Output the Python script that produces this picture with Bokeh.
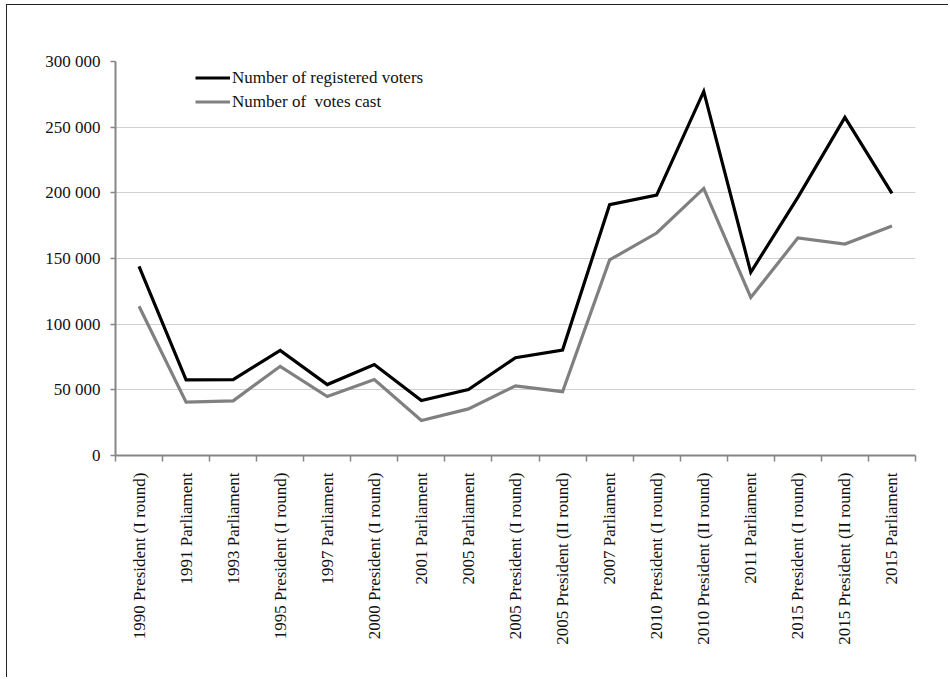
import math
from bokeh.plotting import figure
from bokeh.models import FixedTicker, Range1d, Legend, LegendItem
from bokeh.embed import file_html
from bokeh.resources import INLINE

categories = [
    "1990 President (I round)", "1991 Parliament", "1993 Parliament",
    "1995 President (I round)", "1997 Parliament", "2000 President (I round)",
    "2001 Parliament", "2005 Parliament", "2005 President (I round)",
    "2005 President (II round)", "2007 Parliament", "2010 President (I round)",
    "2010 President (II round)", "2011 Parliament", "2015 President (I round)",
    "2015 President (II round)", "2015 Parliament",
]
registered_voters = [144000, 57600, 57800, 80000, 54000, 69300, 41800, 50200, 74500,
                     80300, 191000, 198300, 277200, 139500, 196500, 257400, 199600]
votes_cast = [113600, 40600, 41600, 67900, 44900, 57800, 26700, 35500, 53000,
              48600, 148900, 169400, 203400, 120300, 165600, 161000, 174700]
y_ticks = [0, 50000, 100000, 150000, 200000, 250000, 300000]
y_tick_labels = ["0", "50 000", "100 000", "150 000", "200 000", "250 000", "300 000"]
series_names = ["Number of registered voters", "Number of  votes cast"]

FONT = "Liberation Serif"
FS = "17px"
x = list(range(1, len(categories) + 1))

p = figure(width=942, height=673, output_backend="svg", toolbar_location=None,
           x_range=Range1d(0.5, len(categories) + 0.5), y_range=Range1d(0, 300000),
           min_border_left=108, min_border_right=34, min_border_top=56, min_border_bottom=223)
p.styles = {"margin-left": "6px", "margin-top": "4px",
            "border-left": "1px solid #222", "border-top": "1px solid #222"}
p.outline_line_color = None
p.background_fill_color = "white"
p.border_fill_color = "white"

r1 = p.line(x, registered_voters, line_color="black", line_width=3.2, line_join="miter")
r2 = p.line(x, votes_cast, line_color="#808080", line_width=3.2, line_join="miter")

# y axis
p.yaxis.ticker = FixedTicker(ticks=y_ticks)
p.yaxis.major_label_overrides = dict(zip(y_ticks, y_tick_labels))
p.yaxis.axis_line_color = "#868686"
p.yaxis.axis_line_width = 2
p.yaxis.major_tick_line_color = "#868686"
p.yaxis.major_tick_line_width = 1.5
p.yaxis.major_tick_out = 5
p.yaxis.major_tick_in = 0
p.yaxis.minor_tick_line_color = None
p.yaxis.major_label_standoff = 10
p.yaxis.major_label_text_font = FONT
p.yaxis.major_label_text_font_size = FS
p.yaxis.major_label_text_color = "#111"

# x axis
bounds = [i + 0.5 for i in range(0, len(categories) + 1)]
p.xaxis.ticker = FixedTicker(ticks=x, minor_ticks=bounds)
p.xaxis.major_label_overrides = dict(zip(x, categories))
p.xaxis.major_label_orientation = math.pi / 2
p.xaxis.axis_line_color = "#868686"
p.xaxis.axis_line_width = 2
p.xaxis.major_tick_line_color = None
p.xaxis.major_tick_out = 0
p.xaxis.major_tick_in = 0
p.xaxis.minor_tick_line_color = "#868686"
p.xaxis.minor_tick_line_width = 1.5
p.xaxis.minor_tick_out = 6
p.xaxis.minor_tick_in = 0
p.xaxis.major_label_standoff = 11
p.xaxis.major_label_text_font = FONT
p.xaxis.major_label_text_font_size = FS
p.xaxis.major_label_text_color = "#111"

p.xgrid.grid_line_color = None
p.ygrid.ticker = FixedTicker(ticks=y_ticks)
p.ygrid.grid_line_color = "#d0d0d0"
p.ygrid.grid_line_width = 1.2

legend = Legend(items=[LegendItem(label=series_names[0], renderers=[r1]),
                       LegendItem(label=series_names[1], renderers=[r2])],
                location=(80, 343), padding=0, margin=0, spacing=3,
                glyph_width=35, glyph_height=21, label_height=21, label_standoff=2,
                border_line_color=None, background_fill_alpha=0)
legend.label_text_font = FONT
legend.label_text_font_size = FS
legend.label_text_color = "#111"
p.add_layout(legend)

open("out.html", "w").write(file_html(p, INLINE))
